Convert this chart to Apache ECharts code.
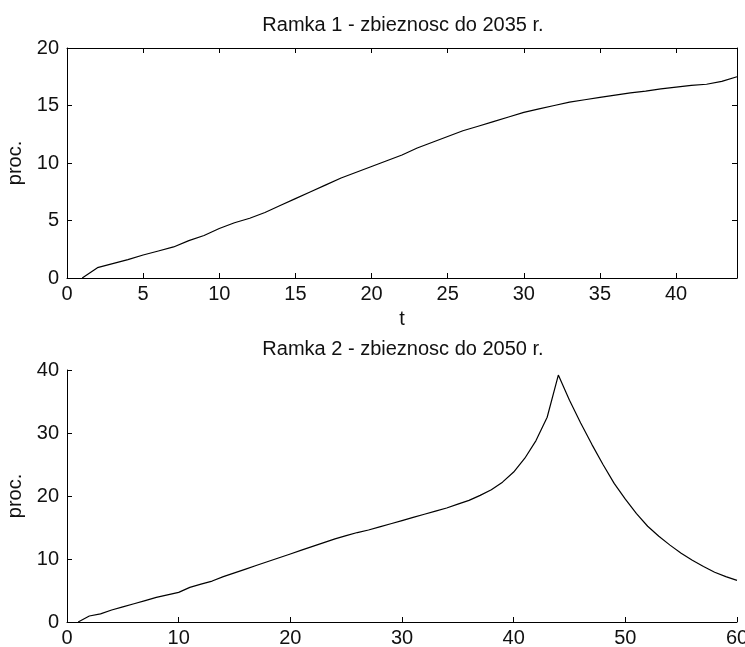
<!DOCTYPE html>
<html>
<head>
<meta charset="utf-8">
<script src="https://cdn.jsdelivr.net/npm/echarts@6/dist/echarts.min.js"></script>
<style>
html,body{margin:0;padding:0;background:#fff;}
#c{width:745px;height:647px;}
</style>
</head>
<body>
<div id="c"></div>
<script>
// Ramka 1 (t = 1..44)
const t1 = [1,2,3,4,5,6,7,8,9,10,11,12,13,14,15,16,17,18,19,20,21,22,23,24,25,26,27,28,29,30,31,32,33,34,35,36,37,38,39,40,41,42,43,44];
const v1 = [0,0.9,1.25,1.6,2.0,2.35,2.7,3.25,3.7,4.3,4.8,5.2,5.7,6.3,6.9,7.5,8.1,8.7,9.2,9.7,10.2,10.7,11.3,11.8,12.3,12.8,13.2,13.6,14.0,14.4,14.7,15.0,15.3,15.5,15.7,15.9,16.1,16.25,16.45,16.6,16.75,16.85,17.1,17.5];
// Ramka 2 (t = 1..60)
const t2 = [1,2,3,4,5,6,7,8,9,10,11,12,13,14,15,16,17,18,19,20,21,22,23,24,25,26,27,28,29,30,31,32,33,34,35,36,37,38,39,40,41,42,43,44,45,46,47,48,49,50,51,52,53,54,55,56,57,58,59,60];
const v2 = [0,0.95,1.3,1.9,2.4,2.9,3.4,3.9,4.3,4.7,5.5,6.0,6.5,7.2,7.8,8.4,9.0,9.6,10.2,10.8,11.4,12.0,12.6,13.2,13.7,14.2,14.6,15.1,15.6,16.1,16.6,17.1,17.6,18.1,18.7,19.3,20.1,21.0,22.2,23.8,26.0,28.8,32.5,39.2,35.2,31.6,28.2,25.0,22.0,19.5,17.2,15.2,13.6,12.2,10.9,9.8,8.8,7.9,7.2,6.6];

const title1 = 'Ramka 1 - zbieznosc do 2035 r.';
const title2 = 'Ramka 2 - zbieznosc do 2050 r.';
const xName = 't';
const yName = 'proc.';

const FONT = 'Liberation Sans, Arial, sans-serif';
const FS = 20;
const black = '#000';

function pairs(xs, ys){ return xs.map((x,i)=>[x, ys[i]]); }

const lineAxis = {show:true, onZero:false, lineStyle:{color:black, width:1}};
const tickIn = {show:true, inside:true, length:5, lineStyle:{color:black, width:1}};
const lbl = {color:'#111', fontFamily:FONT, fontSize:FS};

const chart = echarts.init(document.getElementById('c'), null, {renderer:'canvas'});
chart.setOption({
  backgroundColor:'#fff',
  animation:false,
  title:[
    {text:title1, left:398, top:10, textAlign:'center', textStyle:{color:'#111', fontFamily:FONT, fontSize:FS, fontWeight:'normal'}},
    {text:title2, left:398, top:334, textAlign:'center', textStyle:{color:'#111', fontFamily:FONT, fontSize:FS, fontWeight:'normal'}}
  ],
  grid:[
    {left:67, right:8, top:48, height:230, show:false, containLabel:false, outerBoundsMode:'none'},
    {left:67, right:8, top:370, height:252, show:false, containLabel:false, outerBoundsMode:'none'}
  ],
  xAxis:[
    {type:'value', gridIndex:0, min:0, max:44, interval:5, position:'bottom',
     name:xName, nameLocation:'middle', nameGap:31, nameTextStyle:lbl,
     axisLine:lineAxis, axisTick:tickIn, splitLine:{show:false},
     axisLabel:Object.assign({margin:6, formatter:v=> (v%5===0? String(v):'')}, lbl)},
    {type:'value', gridIndex:0, min:0, max:44, interval:5, position:'top',
     axisLine:lineAxis, axisTick:tickIn, splitLine:{show:false}, axisLabel:{show:false}},
    {type:'value', gridIndex:1, min:0, max:60, interval:10, position:'bottom',
     axisLine:lineAxis, axisTick:tickIn, splitLine:{show:false},
     axisLabel:Object.assign({margin:6}, lbl)}
  ],
  yAxis:[
    {type:'value', gridIndex:0, min:0, max:20, interval:5, position:'left',
     name:yName, nameLocation:'middle', nameGap:40, nameRotate:90, nameTextStyle:lbl,
     axisLine:lineAxis, axisTick:tickIn, splitLine:{show:false},
     axisLabel:Object.assign({margin:8}, lbl)},
    {type:'value', gridIndex:0, min:0, max:20, interval:5, position:'right',
     axisLine:lineAxis, axisTick:tickIn, splitLine:{show:false}, axisLabel:{show:false}},
    {type:'value', gridIndex:1, min:0, max:40, interval:10, position:'left',
     name:yName, nameLocation:'middle', nameGap:40, nameRotate:90, nameTextStyle:lbl,
     axisLine:lineAxis, axisTick:tickIn, splitLine:{show:false},
     axisLabel:Object.assign({margin:8}, lbl)}
  ],
  series:[
    {type:'line', xAxisIndex:0, yAxisIndex:0, data:pairs(t1,v1), showSymbol:false, symbol:'none',
     lineStyle:{color:black, width:1.2}, smooth:false},
    {type:'line', xAxisIndex:2, yAxisIndex:2, data:pairs(t2,v2), showSymbol:false, symbol:'none',
     lineStyle:{color:black, width:1.2}, smooth:false}
  ]
});
</script>
</body>
</html>
